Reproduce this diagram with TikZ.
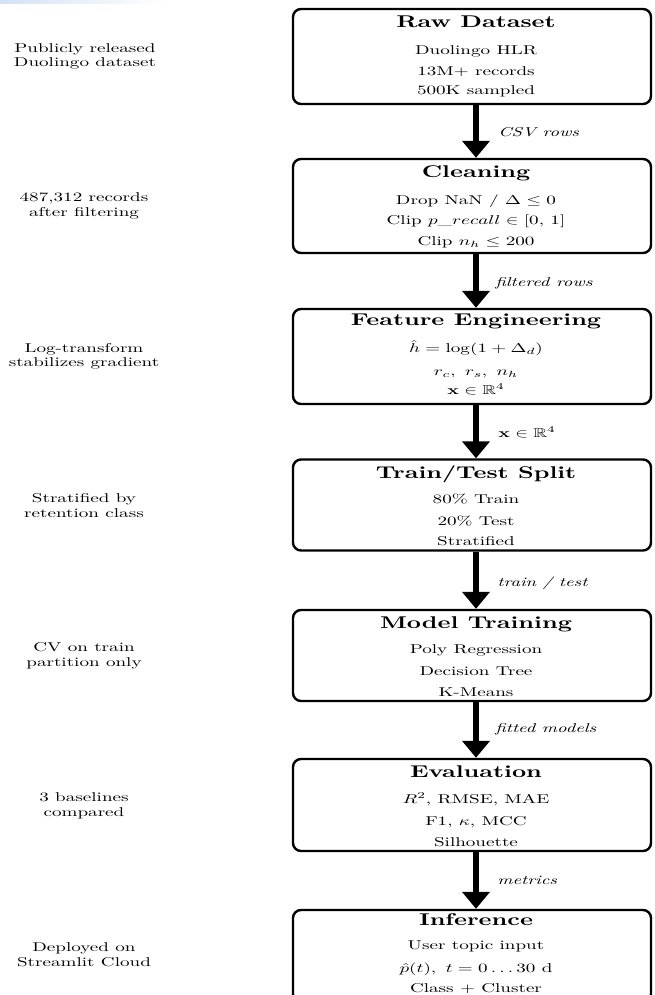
\documentclass[tikz,border=0pt]{standalone}
\usepackage{amssymb}
\usepackage{graphicx}
\usetikzlibrary{arrows.meta}
% horizontally stretched text, as in the reference
\newcommand\sx[1]{\scalebox{0.955}[0.64]{#1}}
\newcommand\tx[1]{\scalebox{1.23}[0.85]{\bfseries #1}}
\newcommand\lx[1]{\scalebox{0.93}[0.64]{\itshape #1}}
\begin{document}
\begin{tikzpicture}[x=0.5pt,y=-0.5pt,
  stagebox/.style={draw, line width=1.2pt, rounded corners=4pt, minimum width=179pt, inner sep=0pt},
  ttl/.style={inner sep=0pt, text height=5.85pt, text depth=0pt},
  txt/.style={inner sep=0pt, text height=4.4pt, text depth=0pt},
  lbl/.style={inner sep=0pt, text height=4.4pt, text depth=0pt, anchor=west},
  flow/.style={line width=3pt, -{Triangle[width=13.5pt,length=8.5pt]}}]
\useasboundingbox (0,0) rectangle (654,995);
\shade[left color={rgb,255:red,212;green,226;blue,244}, right color=white] (0,0) rectangle (165,4);

% stage boxes
\node[stagebox, minimum height=47.5pt] (b1) at (472,56.5)  {};
\node[stagebox, minimum height=47pt]   (b2) at (472,206)   {};
\node[stagebox, minimum height=47.5pt] (b3) at (472,356.5) {};
\node[stagebox, minimum height=45.5pt] (b4) at (472,505)   {};
\node[stagebox, minimum height=45.5pt] (b5) at (472,655.5) {};
\node[stagebox, minimum height=46pt]   (b6) at (472,805)   {};
\node[stagebox, minimum height=46pt]   (b7) at (472,956)   {};

% box 1
\node[ttl] (t1)  at (476,22)  {\tx{Raw Dataset}};
\node[txt] (t1a) at (476,50)  {\sx{Duolingo HLR}};
\node[txt] (t1b) at (476,71)  {\sx{13M+ records}};
\node[txt] (t1c) at (476,90.5) {\sx{500K sampled}};
% box 2
\node[ttl] (t2)  at (476,172) {\tx{Cleaning}};
\node[txt] (t2a) at (476,200) {\sx{Drop NaN / $\Delta \le 0$}};
\node[txt] (t2b) at (476,220) {\sx{Clip $p\_recall \in [0,\,1]$}};
\node[txt] (t2c) at (476,241) {\sx{Clip $n_h \le 200$}};
% box 3
\node[ttl] (t3)  at (476,320) {\tx{Feature Engineering}};
\node[txt] (t3a) at (476,348) {\sx{$\hat{h} = \log(1+\Delta_d)$}};
\node[txt] (t3b) at (476,371) {\sx{$r_c,\ r_s,\ n_h$}};
\node[txt] (t3c) at (476,390) {\sx{$\mathbf{x}\in\mathbb{R}^4$}};
% box 4
\node[ttl] (t4)  at (476,472.5) {\tx{Train/Test Split}};
\node[txt] (t4a) at (476,499) {\sx{80\% Train}};
\node[txt] (t4b) at (476,521) {\sx{20\% Test}};
\node[txt] (t4c) at (476,541.5) {\sx{Stratified}};
% box 5
\node[ttl] (t5)  at (476,623) {\tx{Model Training}};
\node[txt] (t5a) at (476,649) {\sx{Poly Regression}};
\node[txt] (t5b) at (476,671) {\sx{Decision Tree}};
\node[txt] (t5c) at (476,692) {\sx{K-Means}};
% box 6
\node[ttl] (t6)  at (476,772) {\tx{Evaluation}};
\node[txt] (t6a) at (476,799) {\sx{$R^2$, RMSE, MAE}};
\node[txt] (t6b) at (476,821) {\sx{F1, $\kappa$, MCC}};
\node[txt] (t6c) at (476,842) {\sx{Silhouette}};
% box 7
\node[ttl] (t7)  at (476,920) {\tx{Inference}};
\node[txt] (t7a) at (476,945.5) {\sx{User topic input}};
\node[txt] (t7b) at (476,968) {\sx{$\hat{p}(t),\ t=0\ldots30$ d}};
\node[txt] (t7c) at (476,988.5) {\sx{Class + Cluster}};

% arrows
\draw[flow] ([xshift=2pt]b1.south) -- ([xshift=2pt]b2.north);
\draw[flow] ([xshift=2pt]b2.south) -- ([xshift=2pt]b3.north);
\draw[flow] ([xshift=2pt]b3.south) -- ([xshift=2pt]b4.north);
\draw[flow] ([xshift=2pt]b4.south) -- ([xshift=2pt]b5.north);
\draw[flow] ([xshift=2pt]b5.south) -- ([xshift=2pt]b6.north);
\draw[flow] ([xshift=2pt]b6.south) -- ([xshift=2pt]b7.north);

% arrow labels
\node[lbl] (l1) at (498,132) {\lx{CSV rows}};
\node[lbl] (l2) at (495,282) {\lx{filtered rows}};
\node[lbl] (l3) at (498,433) {\sx{$\mathbf{x}\in\mathbb{R}^4$}};
\node[lbl] (l4) at (497,582) {\lx{train / test}};
\node[lbl] (l5) at (495,728) {\lx{fitted models}};
\node[lbl] (l6) at (497,880) {\lx{metrics}};

% side notes
\node[txt] (n1a) at (85,48)    {\sx{Publicly released}};
\node[txt] (n1b) at (85,62.5)  {\sx{Duolingo dataset}};
\node[txt] (n2a) at (84,197.5) {\sx{487,312 records}};
\node[txt] (n2b) at (84,212)   {\sx{after filtering}};
\node[txt] (n3a) at (84,348)   {\sx{Log-transform}};
\node[txt] (n3b) at (84,362.5) {\sx{stabilizes gradient}};
\node[txt] (n4a) at (84,498)   {\sx{Stratified by}};
\node[txt] (n4b) at (84,513)   {\sx{retention class}};
\node[txt] (n5a) at (84,647)   {\sx{CV on train}};
\node[txt] (n5b) at (84,662)   {\sx{partition only}};
\node[txt] (n6a) at (84,797)   {\sx{3 baselines}};
\node[txt] (n6b) at (84,812)   {\sx{compared}};
\node[txt] (n7a) at (84,947)   {\sx{Deployed on}};
\node[txt] (n7b) at (84,962)   {\sx{Streamlit Cloud}};
\end{tikzpicture}
\end{document}
